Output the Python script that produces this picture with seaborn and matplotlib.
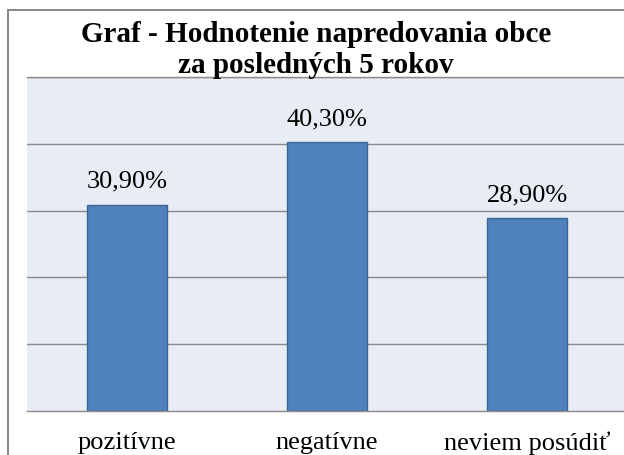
import matplotlib
matplotlib.use("Agg")
import matplotlib.pyplot as plt
from matplotlib.patches import Rectangle
from matplotlib.ticker import FixedLocator
import seaborn as sns
import pandas as pd

# ---- data ----
categories = ["pozitívne", "negatívne", "neviem posúdiť"]
values = [30.9, 40.3, 28.9]
value_labels = ["30,90%", "40,30%", "28,90%"]
title_lines = ["Graf - Hodnotenie napredovania obce", "za posledných 5 rokov"]

sns.set_style("white")
plt.rcParams["font.family"] = ["Liberation Serif", "DejaVu Serif"]

W, H = 624, 455
fig = plt.figure(figsize=(W / 100, H / 100), dpi=100)
fig.patch.set_facecolor("white")

# plot area
ax = fig.add_axes([27 / W, (H - 411) / H, 600 / W, (411 - 77) / H])
ax.set_facecolor("#e8ecf4")

df = pd.DataFrame({"cat": categories, "val": values})
sns.barplot(data=df, x="cat", y="val", color="#4f81bd", saturation=1,
            width=0.4, edgecolor="#3b6797", linewidth=1.0, ax=ax)

ax.set_xlim(-0.5, 2.5)
ax.set_ylim(0, 50)
ax.set_yticks([10, 20, 30, 40, 50])
ax.yaxis.grid(True, color="#8a8a8a", linewidth=1.0)
ax.set_axisbelow(True)
ax.tick_params(axis="y", length=0, labelleft=False)
ax.set_xlabel("")
ax.set_ylabel("")

for s in ["left", "right"]:
    ax.spines[s].set_visible(False)
ax.spines["top"].set_color("#8a8a8a")
ax.spines["top"].set_linewidth(1.0)
ax.spines["bottom"].set_color("#8a8a8a")
ax.spines["bottom"].set_linewidth(1.0)

ax.xaxis.set_minor_locator(FixedLocator([-0.5, 0.5, 1.5, 2.5]))
ax.tick_params(axis="x", which="minor", length=4.5, width=1.0, color="#8a8a8a", direction="out")
ax.tick_params(axis="x", which="major", length=0, pad=15, labelsize=19, labelcolor="black")

ax.bar_label(ax.containers[0], labels=value_labels, padding=8.5, fontsize=19, color="black")

# title
fig.text(316 / W, 1 - 42 / H, title_lines[0], ha="center", va="baseline",
         fontsize=21, fontweight="bold", color="black")
fig.text(316 / W, 1 - 73 / H, title_lines[1], ha="center", va="baseline",
         fontsize=21, fontweight="bold", color="black", zorder=5)

# outer chart frame (extends past the cropped right/bottom edges)
fig.add_artist(Rectangle((8 / W, -0.1), 1.5, (1 - 10 / H) + 0.1,
                         transform=fig.transFigure, fill=False,
                         edgecolor="#878787", linewidth=1.4, zorder=0))

fig.savefig("out.png", dpi=100)
